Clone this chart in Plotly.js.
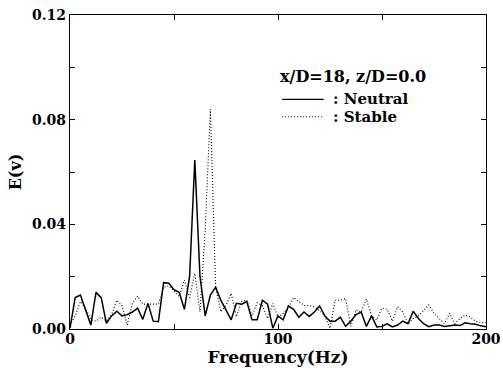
<!DOCTYPE html>
<html>
<head>
<meta charset="utf-8">
<script src="https://cdn.plot.ly/plotly-3.0.1.min.js"></script>
<style>html,body{margin:0;padding:0;background:#fff;}#chart{width:503px;height:368px;}</style>
</head>
<body>
<div id="chart"></div>
<script>
// Frequency grid (Hz)
const freq = [0,2.5,5,7.5,10,12.5,15,17.5,20,22.5,25,27.5,30,32.5,35,37.5,40,42.5,45,47.5,
  50,52.5,55,57.5,60,62.5,65,67.5,70,72.5,75,77.5,80,82.5,85,87.5,90,92.5,95,97.5,
  100,102.5,105,107.5,110,112.5,115,117.5,120,122.5,125,127.5,130,132.5,135,137.5,140,142.5,145,147.5,
  150,152.5,155,157.5,160,162.5,165,167.5,170,172.5,175,177.5,180,182.5,185,187.5,190,192.5,195,197.5,200];

// E(v), Neutral
const neutral = [0.0003,0.012,0.013,0.007,0.0015,0.014,0.012,0.0022,0.005,0.0068,0.005,0.0055,0.0065,0.008,0.0037,0.0098,0.003,0.0028,0.0177,0.0175,
  0.015,0.014,0.0075,0.02,0.0646,0.02,0.005,0.013,0.016,0.011,0.0075,0.0035,0.0098,0.0095,0.0105,0.0035,0.0035,0.011,0.0095,0.0003,
  0.005,0.0035,0.0088,0.0075,0.0045,0.0065,0.0048,0.0065,0.0088,0.005,0.003,0.003,0.0045,0.001,0.003,0.0055,0.0065,0.001,0.005,0.0008,
  0.001,0.002,0.0008,0.0015,0.003,0.002,0.0068,0.004,0.002,0.0009,0.0015,0.0015,0.001,0.0013,0.0015,0.0013,0.0024,0.002,0.0018,0.0012,0.0009];

// E(v), Stable
const stable = [0.0015,0.005,0.0105,0.008,0.0035,0.003,0.0045,0.003,0.0055,0.011,0.009,0.0015,0.0098,0.0126,0.0095,0.0095,0.0095,0.0095,0.016,0.0165,
  0.0145,0.0125,0.0187,0.012,0.0213,0.0066,0.038,0.084,0.016,0.0066,0.009,0.0136,0.0047,0.0105,0.011,0.005,0.01,0.009,0.004,0.0098,
  0.0045,0.006,0.008,0.012,0.0105,0.009,0.009,0.0085,0.007,0.005,0.0003,0.011,0.011,0.0117,0.001,0.0073,0.0065,0.0115,0.005,0.0035,
  0.008,0.0075,0.003,0.0085,0.0065,0.002,0.004,0.005,0.007,0.0092,0.006,0.004,0.002,0.006,0.002,0.004,0.0053,0.0045,0.003,0.0025,0.0024];

const xTickVals = [0,50,100,150,200];
const xTickText = ['0','','100','','200'];
const yTickVals = [0,0.02,0.04,0.06,0.08,0.10,0.12];
const yTickText = ['0.00','','0.04','','0.08','','0.12'];

const FONT = 'DejaVu Serif, Liberation Serif, serif';

const traces = [
  {x: freq, y: neutral, type: 'scatter', mode: 'lines', name: 'Neutral',
   line: {color: '#000', width: 1.5}},
  {x: freq, y: stable, type: 'scatter', mode: 'lines', name: 'Stable',
   line: {color: '#000', width: 1.1, dash: '1px,2px'}}
];

const layout = {
  width: 503, height: 368,
  margin: {l: 70, r: 17, t: 15, b: 39},
  paper_bgcolor: '#fff', plot_bgcolor: '#fff',
  showlegend: false,
  font: {family: FONT, color: '#000', size: 13, weight: 'bold'},
  xaxis: {
    range: [0, 200], tickvals: xTickVals, ticktext: xTickText,
    ticks: 'inside', ticklen: 5, tickwidth: 1, tickcolor: '#000',
    showline: true, linecolor: '#000', linewidth: 1.2, mirror: 'ticks',
    showgrid: false, zeroline: false, ticklabelstandoff: -3,
    tickfont: {family: FONT, size: 14, weight: 'bold'},
    title: {text: 'Frequency(Hz)', font: {family: FONT, size: 17, weight: 'bold'}, standoff: 0}
  },
  yaxis: {
    range: [0, 0.12], tickvals: yTickVals, ticktext: yTickText,
    ticks: 'inside', ticklen: 5, tickwidth: 1, tickcolor: '#000',
    showline: true, linecolor: '#000', linewidth: 1.2, mirror: 'ticks',
    showgrid: false, zeroline: false,
    tickfont: {family: FONT, size: 14, weight: 'bold'},
    title: {text: 'E(v)', font: {family: FONT, size: 16, weight: 'bold'}, standoff: 6}
  },
  shapes: [
    {type: 'line', xref: 'paper', yref: 'paper', x0: 0.51, x1: 0.61, y0: 0.731, y1: 0.731,
     line: {color: '#000', width: 1.3}},
    {type: 'line', xref: 'paper', yref: 'paper', x0: 0.51, x1: 0.61, y0: 0.676, y1: 0.676,
     line: {color: '#000', width: 1, dash: '1px,2px'}}
  ],
  annotations: [
    {xref: 'paper', yref: 'paper', x: 0.5, y: 0.805, xanchor: 'left', yanchor: 'middle',
     text: 'x/D=18, z/D=0.0', showarrow: false, font: {family: FONT, size: 16, weight: 'bold'}},
    {xref: 'paper', yref: 'paper', x: 0.63, y: 0.733, xanchor: 'left', yanchor: 'middle',
     text: ': Neutral', showarrow: false, borderpad: 0, font: {family: FONT, size: 15, weight: 'bold'}},
    {xref: 'paper', yref: 'paper', x: 0.63, y: 0.675, xanchor: 'left', yanchor: 'middle',
     text: ': Stable', showarrow: false, borderpad: 0, font: {family: FONT, size: 15, weight: 'bold'}}
  ]
};

Plotly.newPlot('chart', traces, layout, {displayModeBar: false, staticPlot: true});
</script>
</body>
</html>
